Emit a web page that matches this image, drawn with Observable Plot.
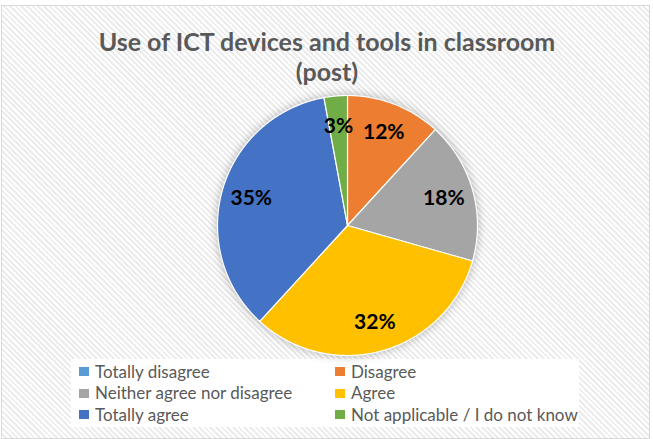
<!DOCTYPE html>
<html>
<head>
<meta charset="utf-8">
<script src="https://cdn.jsdelivr.net/npm/d3@7"></script>
<script src="https://cdn.jsdelivr.net/npm/@observablehq/plot@0.6"></script>
<style>
  body { margin: 0; background: #fff; }
  #wrap { position: relative; width: 653px; height: 439px; overflow: hidden; background: #fff; font-family: Lato, "DejaVu Sans", sans-serif; }
  #frame { position: absolute; left: 1px; top: 5px; width: 647px; height: 432px; border: 1px solid #d9d9d9;
    background: repeating-linear-gradient(45deg, #ffffff 0px, #ffffff 2px, #ececec 2px, #ececec 4px); }
  #title { position: absolute; left: 27px; width: 600px; top: 26px; text-align: center; font-size: 25px; line-height: 30px; font-weight: bold; color: #595959; }
  #legendbox { position: absolute; left: 71px; top: 359px; width: 508px; height: 68px; background: #fff; }
  .li { position: absolute; font-size: 17px; line-height: 20px; color: #595959; white-space: nowrap; }
  .sw { position: absolute; width: 10px; height: 9px; }
  #plot { position: absolute; left: 0; top: 0; }
  #plot svg g[aria-label="line"] { filter: drop-shadow(0 0 5px rgba(0,0,0,0.28)); }
</style>
</head>
<body>
<div id="wrap">
  <div id="frame"></div>
  <div id="title">Use of ICT devices and tools in classroom<br>(post)</div>
  <div id="legendbox"></div>
  <div id="plot"></div>
</div>
<script>
const categories = ["Totally disagree", "Disagree", "Neither agree nor disagree", "Agree", "Totally agree", "Not applicable / I do not know"];
const percents = [0, 11.8, 17.6, 32.4, 35.3, 2.9];
const colors = ["#5B9BD5", "#ED7D31", "#A5A5A5", "#FFC000", "#4472C4", "#70AD47"];

// legend (two columns, three rows)
const legendCols = [79, 335];
const legendRows = [378, 399.5, 421];
const wrap = document.getElementById("wrap");
categories.forEach((c, i) => {
  const col = i % 2, row = Math.floor(i / 2);
  const sw = document.createElement("div");
  sw.className = "sw";
  sw.style.left = legendCols[col] + "px";
  sw.style.top = (legendRows[row] - 11) + "px";
  sw.style.background = colors[i];
  wrap.appendChild(sw);
  const t = document.createElement("div");
  t.className = "li";
  t.style.left = (legendCols[col] + 16) + "px";
  t.style.top = (legendRows[row] - 16.5) + "px";
  t.textContent = c;
  wrap.appendChild(t);
});

// slices from d3.pie (clockwise from 12 o'clock)
const pie = d3.pie().sort(null).value(d => d.v)(categories.map((c, i) => ({cat: c, v: percents[i]})));
const pts = [];
const labels = [];
pie.forEach(p => {
  if (p.data.v <= 0) return;
  const n = Math.max(2, Math.ceil((p.endAngle - p.startAngle) / 0.01));
  pts.push({cat: p.data.cat, x: 0, y: 0});
  for (let k = 0; k <= n; k++) {
    const a = p.startAngle + (p.endAngle - p.startAngle) * k / n;
    pts.push({cat: p.data.cat, x: Math.sin(a), y: Math.cos(a)});
  }
  const m = (p.startAngle + p.endAngle) / 2;
  labels.push({x: 0.77 * Math.sin(m), y: 0.77 * Math.cos(m), text: Math.round(p.data.v) + "%"});
});

const chart = Plot.plot({
  width: 653,
  height: 439,
  margin: 0,
  style: {background: "transparent", fontFamily: "Lato, sans-serif", overflow: "visible"},
  x: {domain: [-1, 1], range: [217, 477], axis: null},
  y: {domain: [-1, 1], range: [355, 95], axis: null},
  color: {domain: categories, range: colors},
  marks: [
    Plot.line(pts, {x: "x", y: "y", z: "cat", fill: "cat", stroke: "white", strokeWidth: 1.2, curve: "linear-closed"}),
    Plot.text(labels, {x: "x", y: "y", text: "text", fontSize: 21, fontWeight: "bold", fill: "black"})
  ]
});
document.getElementById("plot").appendChild(chart);
</script>
</body>
</html>
